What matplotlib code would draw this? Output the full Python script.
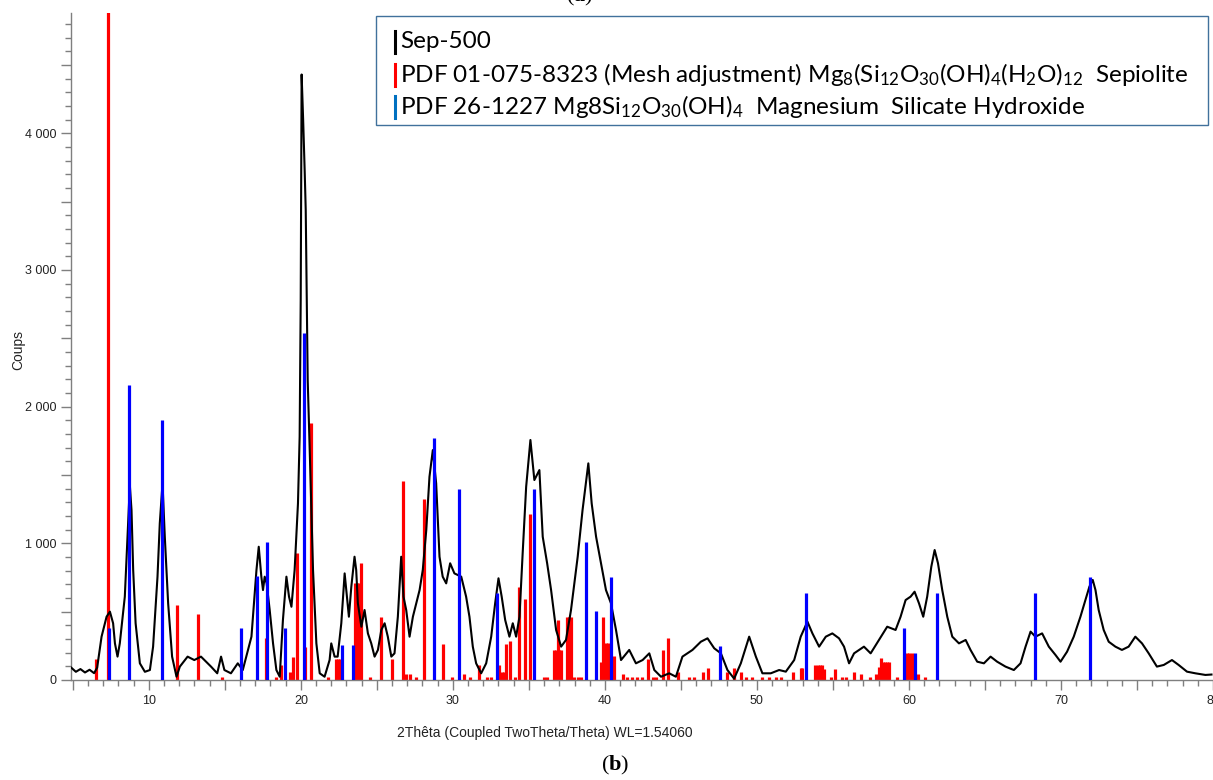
import matplotlib
matplotlib.use("Agg")
import matplotlib.pyplot as plt
from matplotlib.ticker import MultipleLocator, FuncFormatter
from matplotlib.lines import Line2D
from matplotlib.patches import Rectangle

plt.rcParams['mathtext.fontset'] = 'custom'
plt.rcParams['mathtext.rm'] = 'Lato'
plt.rcParams['mathtext.bf'] = 'Liberation Serif:bold'

# ---- Measured pattern: Sep-500 (2theta, counts) ----
sep_x = [4.9, 5.2, 5.5, 5.8, 6.1, 6.4, 6.6, 6.89, 7.22, 7.44, 7.65, 7.77, 7.94, 8.09,
         8.42, 8.6, 8.75, 8.86, 8.97, 9.13, 9.41, 9.74, 10.07, 10.28, 10.57, 10.72,
         10.9, 11.05, 11.27, 11.53, 11.82, 12.04, 12.55, 12.99, 13.43, 13.8, 14.09,
         14.5, 14.75, 14.97, 15.4, 15.85, 16.18, 16.75, 17.08, 17.23, 17.4, 17.51,
         17.62, 17.75, 17.95, 18.17, 18.39, 18.61, 18.82, 19.05, 19.22, 19.38, 19.59,
         19.81, 19.92, 19.99, 20.05, 20.15, 20.25, 20.32, 20.45, 20.62, 20.8, 21.02,
         21.24, 21.56, 21.89, 22.0, 22.22, 22.42, 22.66, 22.88, 23.03, 23.16, 23.32,
         23.53, 23.64, 23.75, 23.98, 24.19, 24.41, 24.63, 24.85, 25.07, 25.29, 25.51,
         25.72, 25.95, 26.16, 26.38, 26.6, 26.75, 26.93, 27.15, 27.37, 27.59, 27.81,
         28.02, 28.25, 28.46, 28.68, 28.9, 29.12, 29.33, 29.56, 29.82, 30.1, 30.55,
         30.87, 31.09, 31.31, 31.53, 31.86, 32.19, 32.52, 32.78, 33.0, 33.21, 33.44,
         33.72, 33.94, 34.16, 34.38, 34.59, 34.82, 35.1, 35.36, 35.69, 35.91, 36.2,
         36.46, 36.79, 37.12, 37.44, 37.77, 38.21, 38.53, 38.91, 39.13, 39.42, 39.74,
         40.07, 40.4, 40.73, 41.06, 41.6, 42.04, 42.48, 42.92, 43.25, 43.69, 44.23,
         44.67, 45.1, 45.76, 46.31, 46.75, 47.19, 47.63, 48.06, 48.5, 48.94, 49.49,
         49.93, 50.36, 50.91, 51.46, 51.9, 52.45, 52.88, 53.32, 53.65, 54.09, 54.53,
         54.96, 55.4, 55.73, 56.06, 56.39, 57.04, 57.48, 58.03, 58.57, 59.12, 59.45,
         59.78, 60.11, 60.37, 60.66, 60.94, 61.2, 61.47, 61.69, 61.91, 62.19, 62.52,
         62.85, 63.29, 63.73, 64.05, 64.49, 64.93, 65.37, 65.8, 66.35, 66.9, 67.34,
         67.67, 68.0, 68.32, 68.76, 69.2, 69.64, 69.97, 70.4, 70.84, 71.28, 71.61,
         71.87, 72.09, 72.27, 72.48, 72.81, 73.14, 73.58, 74.01, 74.45, 74.89, 75.33,
         75.77, 76.31, 76.76, 77.3, 77.74, 78.29, 78.84, 79.5, 79.9]
sep_y = [90, 60, 80, 55, 75, 50, 90, 317, 463, 500, 415, 268, 171, 268,
         610, 1048, 1426, 1244, 805, 415, 122, 60, 73, 244, 756, 1146,
         1439, 1048, 561, 171, 24, 98, 171, 146, 171, 130, 98,
         49, 171, 73, 49, 122, 73, 317, 805, 975, 756, 658,
         756, 707, 512, 268, 73, 24, 439, 756, 610, 536, 805,
         1292, 1780, 2780, 4430, 4100, 3730, 3440, 2195, 1536, 805, 268,
         49, 24, 146, 268, 171, 171, 415, 780, 610, 463, 683,
         902, 805, 561, 390, 512, 341, 268, 171, 220, 366, 415,
         317, 171, 195, 463, 902, 610, 512, 317, 463, 561, 658,
         805, 1097, 1487, 1682, 1439, 902, 756, 707, 854, 780, 756,
         610, 463, 244, 122, 49, 122, 317, 561, 744, 610, 439,
         317, 415, 317, 463, 927, 1414, 1756, 1463, 1536, 1048, 854,
         658, 366, 244, 293, 512, 902, 1244, 1585, 1292, 1048, 854,
         658, 561, 366, 146, 220, 122, 146, 195, 73, 24, 49,
         24, 171, 220, 280, 305, 232, 195, 73, 10, 122, 317,
         171, 49, 49, 73, 61, 146, 317, 427, 341, 244, 317,
         341, 305, 244, 122, 195, 244, 195, 293, 390, 366, 463,
         585, 610, 646, 561, 463, 610, 829, 951, 854, 658, 463,
         317, 268, 293, 220, 134, 122, 171, 134, 98, 73, 122,
         244, 354, 317, 341, 244, 183, 134, 207, 317, 463, 585,
         683, 732, 658, 512, 366, 280, 244, 220, 244, 317, 268,
         195, 98, 110, 146, 110, 61, 49, 37, 40]

# ---- PDF 01-075-8323 Sepiolite reference lines ----
sepiolite_pos = [6.5, 7.33, 11.84, 13.24, 14.84, 17.73, 18.39, 18.67, 19.26, 19.49,
                 19.72, 20.28, 20.64, 21.78, 22.33, 22.45, 22.55, 23.57, 23.7, 23.83,
                 23.93, 24.57, 25.24, 25.97, 26.75, 26.93, 27.21, 27.59, 28.09, 29.38,
                 29.95, 30.72, 31.14, 31.75, 32.25, 32.52, 33.06, 33.24, 33.39, 33.49,
                 33.77, 34.11, 34.33, 34.75, 35.1, 36.0, 36.2, 36.68, 36.81, 36.9,
                 37.0, 37.12, 37.53, 37.66, 37.77, 37.99, 38.21, 38.43, 39.74, 39.87,
                 40.07, 40.22, 40.57, 41.16, 41.47, 41.8, 42.13, 42.46, 42.85, 43.18,
                 43.36, 43.84, 44.17, 44.83, 45.55, 45.87, 46.42, 46.75, 48.0, 48.5,
                 48.94, 49.27, 49.68, 50.34, 50.8, 51.24, 51.57, 52.38, 52.88, 52.99,
                 53.82, 53.99, 54.15, 54.28, 54.42, 54.86, 55.14, 55.58, 55.84, 56.39,
                 56.87, 57.42, 57.85, 58.0, 58.16, 58.29, 58.42, 58.55, 58.69, 59.23,
                 59.87, 60.03, 60.2, 60.59, 61.03]
sepiolite_int = [151, 5200, 549, 483, 22, 310, 24, 110, 61, 171,
                 927, 244, 1877, 22, 151, 151, 151, 707, 707, 707,
                 858, 24, 459, 151, 1456, 44, 44, 24, 1322, 263,
                 24, 44, 24, 110, 24, 24, 110, 61, 61, 263,
                 288, 24, 683, 593, 1214, 24, 24, 220, 220, 439,
                 220, 220, 463, 463, 463, 24, 24, 24, 134, 463,
                 268, 268, 175, 44, 24, 24, 24, 24, 151, 24,
                 24, 220, 310, 61, 24, 24, 61, 90, 61, 90,
                 61, 24, 24, 24, 24, 24, 24, 61, 90, 90,
                 110, 110, 110, 110, 80, 24, 80, 24, 24, 61,
                 44, 24, 44, 98, 159, 134, 134, 134, 134, 24,
                 195, 195, 195, 44, 24]

# ---- PDF 26-1227 Magnesium Silicate Hydroxide reference lines ----
msh_pos = [7.37, 8.69, 10.87, 16.09, 17.13, 17.77, 18.98, 20.2, 22.73, 23.42,
           28.73, 30.4, 32.88, 35.33, 38.78, 39.39, 40.37, 47.58, 53.21, 59.69,
           60.39, 61.82, 68.31, 71.89]
msh_int = [378, 2158, 1902, 378, 761, 1012, 378, 2540, 253, 253,
           1773, 1397, 639, 1397, 1012, 507, 756, 249, 634, 378,
           200, 634, 634, 756]

legend_labels = [
    "Sep-500",
    r"PDF 01-075-8323 (Mesh adjustment) Mg$\mathregular{_{8}}$(Si$\mathregular{_{12}}$O$\mathregular{_{30}}$(OH)$\mathregular{_{4}}$(H$\mathregular{_{2}}$O)$\mathregular{_{12}}$  Sepiolite",
    r"PDF 26-1227 Mg8Si$\mathregular{_{12}}$O$\mathregular{_{30}}$(OH)$\mathregular{_{4}}$  Magnesium  Silicate Hydroxide",
]
legend_colors = ["black", "#FF0000", "#0070C0"]

W, H = 1213, 780
fig = plt.figure(figsize=(W / 100, H / 100), dpi=100)
ax = fig.add_axes([71 / W, 100 / H, (1213 - 71) / W, (680 - 13) / H])

ax.vlines(sepiolite_pos, 0, sepiolite_int, color="#FF0000", lw=2.3, zorder=2)
ax.plot(sep_x, sep_y, color="black", lw=1.5, zorder=3)
ax.vlines(msh_pos, 0, msh_int, color="#0000FF", lw=2.3, zorder=4)

ax.set_xlim(4.88, 80)
ax.set_ylim(0, 4880)

for s in ["top", "right"]:
    ax.spines[s].set_visible(False)
for s in ["left", "bottom"]:
    ax.spines[s].set_color("#7f7f7f")
    ax.spines[s].set_linewidth(1.0)

ax.xaxis.set_major_locator(MultipleLocator(5))
ax.xaxis.set_minor_locator(MultipleLocator(1))
ax.xaxis.set_major_formatter(FuncFormatter(lambda v, p: f"{int(round(v))}" if round(v) % 10 == 0 else ""))
ax.yaxis.set_major_locator(MultipleLocator(500))
ax.yaxis.set_minor_locator(MultipleLocator(100))
ax.yaxis.set_major_formatter(FuncFormatter(
    lambda v, p: (f"{int(round(v)):,}".replace(",", " ")) if round(v) % 1000 == 0 else ""))

ax.tick_params(which="major", direction="out", length=7, width=1, color="#7f7f7f",
               labelsize=9, labelcolor="#222222")
ax.tick_params(which="minor", direction="out", length=4, width=1, color="#7f7f7f")
for lab in ax.get_xticklabels() + ax.get_yticklabels():
    lab.set_fontfamily("Liberation Sans")

fig.text(18 / W, 1 - 350 / H, "Coups", rotation=90, ha="center", va="center",
         fontsize=10, family="Liberation Sans", color="#222222")
fig.text(545 / W, 1 - 733 / H, "2Thêta (Coupled TwoTheta/Theta) WL=1.54060",
         ha="center", va="center", fontsize=10, family="Liberation Sans", color="#222222")
fig.text(615 / W, 1 - 765 / H, r"($\mathbf{b}$)", ha="center", va="center",
         fontsize=16, family="Liberation Serif")
fig.text(580 / W, 1 + 4 / H, r"($\mathbf{a}$)", ha="center", va="center",
         fontsize=16, family="Liberation Serif")

# legend box
box = Rectangle((376 / W, 1 - 125 / H), (1208 - 376) / W, (125 - 16) / H,
                transform=fig.transFigure, fill=True, facecolor="white",
                edgecolor="#41719C", lw=1.0, zorder=5)
fig.add_artist(box)
ys = [42, 75, 107]
for lab, col, yc in zip(legend_labels, legend_colors, ys):
    fig.add_artist(Line2D([395 / W, 395 / W], [1 - (yc - 11) / H, 1 - (yc + 11) / H],
                          transform=fig.transFigure, color=col, lw=2.2, zorder=6))
    fig.text(400 / W, 1 - yc / H, lab, ha="left", va="center", fontsize=17.5,
             family="Lato", color="black", zorder=6)

fig.savefig("out.png", dpi=100)
